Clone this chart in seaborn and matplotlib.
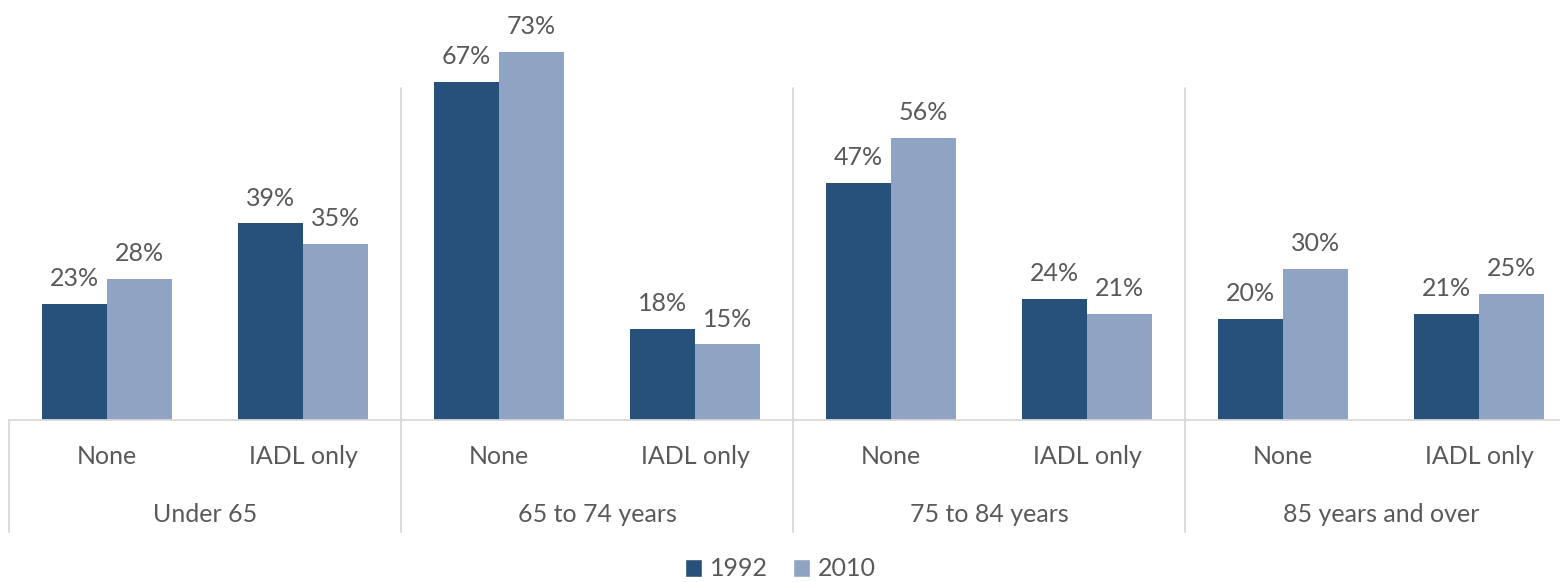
import matplotlib
matplotlib.use("Agg")
import matplotlib.pyplot as plt
import matplotlib.transforms as mtransforms
from matplotlib.patches import Patch
import seaborn as sns
import pandas as pd

groups = ["Under 65", "65 to 74 years", "75 to 84 years", "85 years and over"]
subcats = ["None", "IADL only"]
series = ["1992", "2010"]
vals_1992 = [23, 39, 67, 18, 47, 24, 20, 21]
vals_2010 = [28, 35, 73, 15, 56, 21, 30, 25]
colors = ["#27507A", "#8FA3C3"]

slots = [f"{g}|{s}" for g in groups for s in subcats]
df = pd.DataFrame({
    "slot": slots * 2,
    "year": [series[0]] * 8 + [series[1]] * 8,
    "value": vals_1992 + vals_2010,
})

sns.set_theme(style="white")
plt.rcParams["font.family"] = ["Lato", "DejaVu Sans"]
text_color = "#595959"
line_color = "#D9D9D9"
fs = 18

fig = plt.figure(figsize=(15.6, 5.82), dpi=100)
W, H = 1560, 582
ax_left_px, ax_right_px = 9, 1577
ax_top_px, ax_bot_px = 0, 420
ax = fig.add_axes([ax_left_px / W, (H - ax_bot_px) / H,
                   (ax_right_px - ax_left_px) / W, (ax_bot_px - ax_top_px) / H])

sns.barplot(data=df, x="slot", y="value", hue="year", order=slots,
            hue_order=series, palette=colors, width=0.66, gap=0,
            saturation=1, ax=ax, legend=False, linewidth=0)

px_per_unit = 5.04
ax.set_ylim(0, (ax_bot_px - ax_top_px) / px_per_unit)
ax.set_xlim(-0.5, 7.5)

for c in ax.containers:
    ax.bar_label(c, labels=[f"{v:g}%" for v in c.datavalues], padding=10,
                 fontsize=fs, color=text_color)

ax.set_xticks([])
ax.set_yticks([])
ax.set_xlabel("")
ax.set_ylabel("")
for sp in ["top", "left", "right"]:
    ax.spines[sp].set_visible(False)
ax.spines["bottom"].set_color(line_color)
ax.spines["bottom"].set_linewidth(1.3)

trans = mtransforms.blended_transform_factory(ax.transData, ax.transAxes)
h_ax = ax_bot_px - ax_top_px
def yfrac(px):
    return (ax_bot_px - px) / h_ax

for xb in [1.5, 3.5, 5.5]:
    ax.plot([xb, xb], [yfrac(88), yfrac(532)], transform=trans, color=line_color,
            lw=1.3, clip_on=False)
ax.plot([-0.5, -0.5], [0, yfrac(532)], transform=trans, color=line_color,
        lw=1.3, clip_on=False)

for i, s in enumerate(slots):
    ax.text(i, yfrac(457), s.split("|")[1], transform=trans, ha="center",
            va="center", fontsize=fs, color=text_color)
for gi, g in enumerate(groups):
    ax.text(gi * 2 + 0.5, yfrac(515), g, transform=trans, ha="center",
            va="center", fontsize=fs, color=text_color)

handles = [Patch(facecolor=colors[0], label=series[0]),
           Patch(facecolor=colors[1], label=series[1])]
fig.legend(handles=handles, loc="center", bbox_to_anchor=(0.5, 13 / H), ncol=2,
           frameon=False, fontsize=fs, handlelength=0.7, handleheight=0.7,
           handletextpad=0.3, columnspacing=1.0, labelcolor=text_color)

fig.savefig("out.png", dpi=100)
